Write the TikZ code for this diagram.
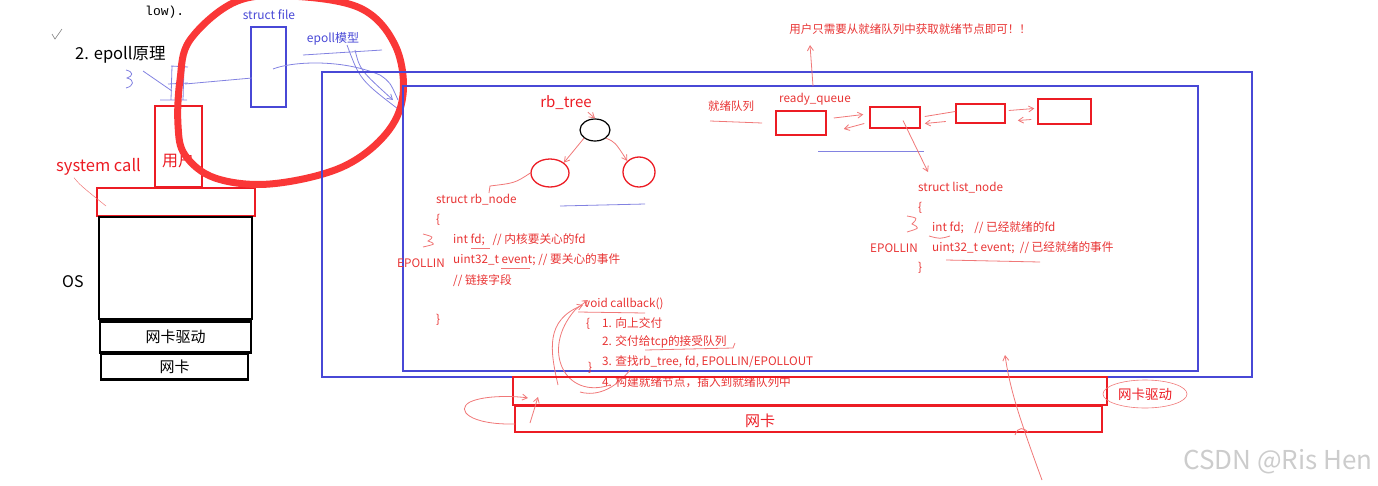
\documentclass[tikz,border=0pt]{standalone}
\usepackage{fontspec}
\setmainfont{Noto Sans CJK SC}
\setmonofont{Liberation Mono}
\usetikzlibrary{arrows.meta,shapes.geometric}
\definecolor{myred}{RGB}{236,28,36}
\definecolor{codered}{RGB}{232,52,52}
\definecolor{pinkln}{RGB}{240,120,120}
\definecolor{myblue}{RGB}{72,72,214}
\definecolor{ltblue}{RGB}{130,130,225}
\definecolor{bigred}{RGB}{250,55,55}
\tikzset{
  bbox/.style={draw=black, line width=2.4pt, inner sep=0pt},
  rbox/.style={draw=myred, line width=1.5pt, inner sep=0pt},
  bluebox/.style={draw=myblue, line width=1.4pt, inner sep=0pt},
  code/.style={text=codered, font=\fontsize{11.7}{13}\selectfont, anchor=west, inner sep=0pt},
  hand/.style={draw=pinkln, line width=0.8pt},
  handb/.style={draw=ltblue, line width=0.8pt},
  harr/.style={hand, -{Straight Barb[length=5pt,width=6pt]}},
  barr/.style={handb, -{Straight Barb[length=5pt,width=6pt]}},
}
\begin{document}
\begin{tikzpicture}[x=1pt,y=-1pt]
\useasboundingbox (0,0) rectangle (1378,485);
% top cut text
\node[anchor=west, inner sep=0, font=\ttfamily\fontsize{13}{14}\selectfont] (low) at (145,12) {low).};
% tick
\draw[line width=0.6pt, gray] (52,34) -- (55,39) -- (62,29);
% title
\node[anchor=west, inner sep=0, font=\fontsize{16.5}{18}\selectfont] (title) at (75,55) {2. epoll原理};
% left stack
\node[rbox, minimum width=47, minimum height=81] (user) at (178.5,146.5) {};
\node[text=myred, inner sep=0, font=\fontsize{16}{18}\selectfont] (userlbl) at (178,160) {用户};
\node[rbox, minimum width=158, minimum height=28] (syscall) at (176,202) {};
\node[text=myred, anchor=west, inner sep=0, font=\fontsize{16.5}{18}\selectfont] (sclbl) at (56,167) {system call};
\draw[hand, line width=0.5pt] (sclbl.south west) ++(18,2) .. controls (80,185) .. (106,206);
\node[bbox, minimum width=153, minimum height=102] (os) at (175.5,268) {};
\node[anchor=west, inner sep=0, font=\fontsize{16}{18}\selectfont] (oslbl) at (62,282) {OS};
\node[bbox, minimum width=151, minimum height=31, font=\fontsize{15}{17}\selectfont] (drv) at (175.5,337) {网卡驱动};
\node[bbox, minimum width=147, minimum height=26, font=\fontsize{15}{17}\selectfont] (nic) at (174.5,366.5) {网卡};
% struct file
\node[bluebox, minimum width=35, minimum height=80] (sfile) at (268.5,67) {};
\node[text=myblue, inner sep=0, font=\fontsize{12}{13}\selectfont] (sflbl) at (269,15) {struct file};
\node[text=myblue, inner sep=0, font=\fontsize{12}{13}\selectfont] (epmodel) at (333,39) {epoll模型};
% blue scribbles
\draw[handb] (126,70) .. controls (134,72) and (133,76) .. (127,78) .. controls (135,80) and (134,86) .. (126,88);
\draw[handb] (143,71) -- (172,91);
\draw[handb] (172,66) -- (171,100) (184,67) -- (183,100) (171,66) -- (188,67) (168,84) -- (188,83) (160,100) -- (187,100);
\draw[handb] (185,84) -- (252,78);
\draw[handb] (273,69) .. controls (290,62) and (340,58) .. (380,75) .. controls (390,82) .. (398,100);
\draw[handb] (303,55) -- (382,50);
\draw[barr] (355,50) .. controls (360,70) .. (393,100);
\draw[handb] (347,45) .. controls (360,80) .. (402,112);
% big red circle
\draw[bigred, line width=7pt, line cap=round, line join=round] plot[smooth cycle, tension=0.6] coordinates {(235,2) (290,-4) (360,8) (395,45) (403,95) (385,135) (340,168) (270,184) (215,178) (185,155) (178,125) (180,80) (190,40)};
% big blue frames
\node[bluebox, minimum width=930, minimum height=305] (outer) at (787,224.5) {};
\node[bluebox, minimum width=795, minimum height=285] (inner) at (800.5,228.5) {};
% rb tree
\node[text=myred, inner sep=0, font=\fontsize{15}{17}\selectfont] (rbt) at (566,103) {rb\_tree};
\node[draw=black, line width=1.2pt, ellipse, minimum width=30, minimum height=22, inner sep=0] (root) at (595,130) {};
\node[draw=myred, line width=1.3pt, ellipse, minimum width=38, minimum height=28, inner sep=0] (lc) at (550,173) {};
\node[draw=myred, line width=1.3pt, ellipse, minimum width=32, minimum height=30, inner sep=0] (rc) at (639,172) {};
\draw[harr] (root.south west) -- (lc.north east);
\draw[harr] (root.south east) .. controls (615,142) .. (rc.north west);
\draw[harr] (rbt.south east) ++(-4,2) -- (root.north);
\draw[hand] (lc.west) .. controls (515,183) .. (490,186) -- (489,193);
\draw[handb] (560,206) -- (645,204);
% rb_node code
\node[code] (rbn) at (436,200) {struct rb\_node};
\node[code] (rb1) at (436,220) {\{};
\node[code] (rb2) at (453,240) {int fd;\ \ \ // 内核要关心的fd};
\node[code] (rb3) at (453,260) {uint32\_t event; // 要关心的事件};
\node[code] (rb4) at (453,281) {// 链接字段};
\node[code] (rb5) at (436,320) {\}};
\node[code] (ep1) at (397,263) {EPOLLIN};
\draw[hand] (423,234) .. controls (434,237) .. (428,241) .. controls (436,244) .. (423,247);
\draw[hand] (471,248) -- (490,248);
\draw[hand] (501,268) -- (530,268);
% ready queue
\node[text=codered, inner sep=0, font=\fontsize{11.5}{13}\selectfont] (jx) at (731,106) {就绪队列};
\draw[hand] (710,121) -- (762,123);
\node[text=codered, inner sep=0, font=\fontsize{11.7}{13}\selectfont] (rq) at (815,99) {ready\_queue};
\node[rbox, minimum width=50, minimum height=24] (q1) at (801,123) {};
\node[rbox, minimum width=50, minimum height=21] (q2) at (895,117.5) {};
\node[rbox, minimum width=49, minimum height=19] (q3) at (980.5,113.5) {};
\node[rbox, minimum width=53, minimum height=25] (q4) at (1064.5,111.5) {};
\draw[harr] ([shift={(7,-5)}]q1.east) -- ([shift={(-6,-3)}]q2.west);
\draw[harr] ([shift={(-5,6)}]q2.west) -- ([shift={(17,6)}]q1.east);
\draw[hand] ([shift={(4,-1)}]q2.east) -- ([shift={(0,-2)}]q3.west);
\draw[harr] ([shift={(25,4)}]q2.east) -- ([shift={(4,6)}]q2.east);
\draw[harr] ([shift={(3,-3)}]q3.east) -- ([shift={(-3,-3)}]q4.west);
\draw[harr] ([shift={(-6,8)}]q4.west) -- ([shift={(12,7)}]q3.east);
\node[text=codered, inner sep=0, font=\fontsize{11.5}{13}\selectfont] (hint) at (910,29) {用户只需要从就绪队列中获取就绪节点即可！！};
\draw[harr] (813,86) -- (810,45);
\draw[handb] (818,151) -- (924,151);
\draw[harr] (q2.center) ++(8,3) -- (928,172);
% list_node code
\node[code] (ln) at (918,188) {struct list\_node};
\node[code] (ln1) at (918,208) {\{};
\node[code] (ln2) at (932,228) {int fd;\ \ \ \ // 已经就绪的fd};
\node[code] (ln3) at (932,248) {uint32\_t event;\ \ // 已经就绪的事件};
\node[code] (ln4) at (918,268) {\}};
\node[code] (ep2) at (870,248) {EPOLLIN};
\draw[hand] (907,216) .. controls (918,218) .. (912,224) .. controls (920,228) .. (907,232);
\draw[hand] (929,236) .. controls (940,239) .. (950,236);
\draw[hand] (946,260) -- (1040,262);
% callback code
\node[code] (cb) at (584,304) {void callback()};
\node[code] (cb0) at (586,324) {\{};
\node[code] (cb1) at (602,323) {1. 向上交付};
\node[code] (cb2) at (602,342) {2. 交付给tcp的接受队列};
\node[code] (cb3) at (602,362) {3. 查找rb\_tree, fd, EPOLLIN/EPOLLOUT};
\node[code] (cb4) at (602,382) {4. 构建就绪节点，插入到就绪队列中};
\node[code] (cb5) at (588,368) {\}};
\draw[hand] (578,312) -- (645,313);
\draw[hand] (645,350) -- (733,348) -- (735,343);
\draw[harr] (558,385) .. controls (550,350) and (545,320) .. (583,305);
\draw[harr] (610,385) .. controls (565,400) and (540,350) .. (575,310) .. controls (580,306) .. (588,300);
\draw[hand] (630,370) .. controls (610,395) and (590,395) .. (580,392);
% bottom layers
\node[rbox, minimum width=594, minimum height=28] (ndrv) at (810,391) {};
\node[rbox, line width=2pt, minimum width=587, minimum height=26] (nnic) at (808.5,419) {};
\node[text=myred, inner sep=0, font=\fontsize{15}{17}\selectfont] (niclbl) at (760,421) {网卡};
\node[draw=pinkln, line width=0.6pt, ellipse, minimum width=84, minimum height=28, inner sep=0, text=myred, font=\fontsize{13.5}{15}\selectfont] (drvlbl) at (1145,394) {网卡驱动};
% loop arrow bottom-left
\draw[harr] (515,424) .. controls (470,425) and (455,410) .. (470,402) .. controls (485,395) and (515,396) .. (528,398);
\draw[harr] (530,423) -- (538,397);
% long arrow from bottom right
\draw[harr] (1042,480) .. controls (1020,420) and (1010,390) .. (1005,355);
\draw[hand] (1015,435) .. controls (1018,426) and (1024,428) .. (1028,432);
% watermark
\node[text=gray!40, inner sep=0, font=\fontsize{26}{28}\selectfont] (wm) at (1278,462) {CSDN @Ris Hen};
\end{tikzpicture}
\end{document}
